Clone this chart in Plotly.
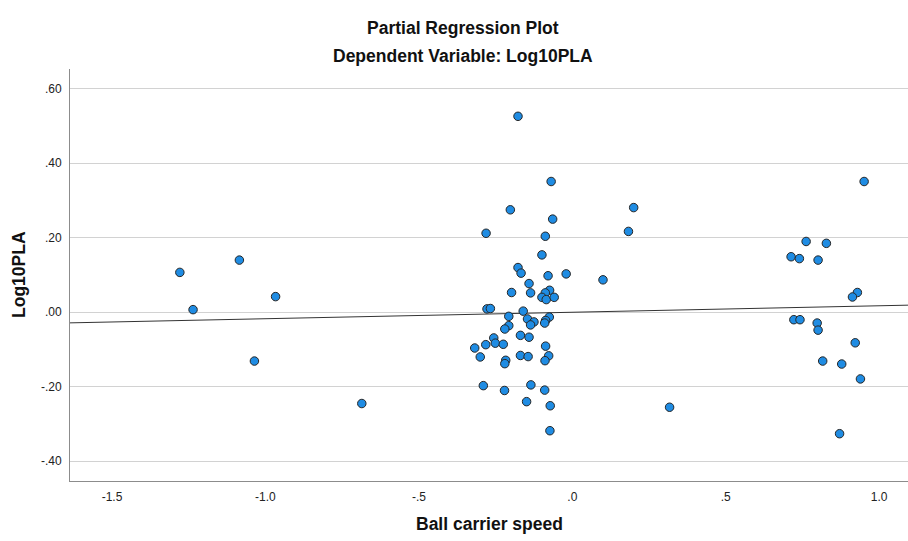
import plotly.graph_objects as go

# Partial regression residuals
ball_speed = [
    -1.279, -1.236, -1.085, -1.036, -0.967, -0.686,
    -0.177, -0.069, -0.202, -0.064, 0.200, 0.183, -0.281, -0.088, -0.099,
    -0.177, -0.167, -0.020, -0.079, 0.100, -0.141, -0.198, -0.136, -0.074,
    -0.088, -0.099, -0.085, -0.059, -0.278, -0.267, -0.160, -0.207, -0.146,
    -0.125, -0.136, -0.075, -0.087, -0.090, -0.207, -0.220, -0.256, -0.169,
    -0.141, -0.318, -0.282, -0.251, -0.225, -0.087, -0.300, -0.169, -0.144,
    -0.217, -0.220, -0.077, -0.089, -0.290, -0.221, -0.135, -0.090, -0.149,
    -0.072, -0.073, 0.317,
    0.762, 0.828, 0.713, 0.740, 0.801, 0.929, 0.913, 0.722, 0.742, 0.798,
    0.801, 0.922, 0.816, 0.878, 0.939, 0.871, 0.951,
]
log10pla = [
    0.107, 0.007, 0.140, -0.131, 0.042, -0.245,
    0.526, 0.351, 0.275, 0.250, 0.281, 0.217, 0.212, 0.204, 0.154,
    0.120, 0.105, 0.103, 0.098, 0.087, 0.077, 0.053, 0.052, 0.059,
    0.052, 0.040, 0.034, 0.040, 0.009, 0.010, 0.003, -0.011, -0.018,
    -0.026, -0.034, -0.013, -0.022, -0.029, -0.036, -0.045, -0.069, -0.062,
    -0.067, -0.096, -0.087, -0.083, -0.086, -0.091, -0.120, -0.116, -0.119,
    -0.129, -0.138, -0.117, -0.130, -0.197, -0.210, -0.195, -0.209, -0.240,
    -0.251, -0.318, -0.255,
    0.190, 0.185, 0.149, 0.144, 0.140, 0.053, 0.041, -0.020, -0.020, -0.029,
    -0.048, -0.082, -0.131, -0.139, -0.179, -0.326, 0.351,
]

fit_slope = 0.0174
fit_intercept = 0.0

x_range = [-1.637, 1.094]
y_range = [-0.453, 0.653]

x_tickvals = [-1.5, -1.0, -0.5, 0.0, 0.5, 1.0]
x_ticktext = ["-1.5", "-1.0", "-.5", ".0", ".5", "1.0"]
y_tickvals = [0.6, 0.4, 0.2, 0.0, -0.2, -0.4]
y_ticktext = [".60", ".40", ".20", ".00", "-.20", "-.40"]

title_main = "Partial Regression Plot"
title_sub = "Dependent Variable: Log10PLA"
x_title = "Ball carrier speed"
y_title = "Log10PLA"

FONT = "Liberation Sans, Arial, sans-serif"

fig = go.Figure()

fit_x = x_range
fit_y = [fit_intercept + fit_slope * v for v in fit_x]
fig.add_trace(go.Scatter(
    x=fit_x, y=fit_y, mode="lines",
    line=dict(color="#333333", width=1),
    hoverinfo="skip", showlegend=False,
))

fig.add_trace(go.Scatter(
    x=ball_speed, y=log10pla, mode="markers",
    marker=dict(size=8.5, color="#1f8ce3", line=dict(color="#262626", width=1)),
    showlegend=False,
))

fig.update_layout(
    width=908, height=541,
    margin=dict(l=70, r=0, t=69, b=60),
    paper_bgcolor="white", plot_bgcolor="white",
    font=dict(family=FONT, color="#222222"),
    showlegend=False,
    xaxis=dict(
        range=x_range, tickvals=x_tickvals, ticktext=x_ticktext,
        showgrid=False, zeroline=False,
        showline=True, linecolor="#8c8c8c", linewidth=1,
        ticks="outside", ticklen=5, tickcolor="rgba(0,0,0,0)",
        tickfont=dict(size=12, color="#222222", family=FONT),
    ),
    yaxis=dict(
        range=y_range, tickvals=y_tickvals, ticktext=y_ticktext,
        showgrid=True, gridcolor="#d2d2d2", gridwidth=1.4,
        zeroline=False,
        showline=True, linecolor="#8c8c8c", linewidth=1,
        ticks="outside", ticklen=5, tickcolor="rgba(0,0,0,0)",
        tickfont=dict(size=12, color="#222222", family=FONT),
    ),
)

plot_w = 908 - 70
plot_h = 541 - 69 - 60

def px_to_paper_x(px):
    return (px - 70) / plot_w

def px_to_paper_y(py):
    return (541 - 60 - py) / plot_h

annos = [
    dict(text=title_main, x=px_to_paper_x(463), y=px_to_paper_y(28),
         font=dict(size=17.5, family=FONT, color="#111111"), textangle=0),
    dict(text=title_sub, x=px_to_paper_x(463), y=px_to_paper_y(56),
         font=dict(size=17.5, family=FONT, color="#111111"), textangle=0),
    dict(text=x_title, x=px_to_paper_x(489), y=px_to_paper_y(524),
         font=dict(size=17.5, family=FONT, color="#111111"), textangle=0),
    dict(text=y_title, x=px_to_paper_x(19), y=px_to_paper_y(275),
         font=dict(size=17.5, family=FONT, color="#111111"), textangle=-90),
]
for a in annos:
    fig.add_annotation(
        text="<b>" + a["text"] + "</b>", x=a["x"], y=a["y"],
        xref="paper", yref="paper", xanchor="center", yanchor="middle",
        showarrow=False, font=a["font"], textangle=a["textangle"],
    )

fig.write_html("out.html")
